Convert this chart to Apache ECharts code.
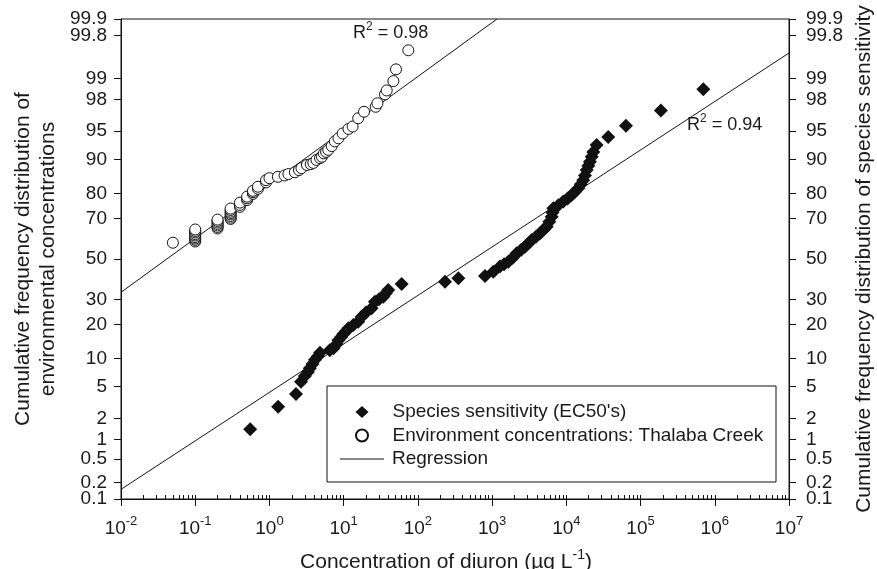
<!DOCTYPE html>
<html><head><meta charset="utf-8">
<script src="https://cdn.jsdelivr.net/npm/echarts@6/dist/echarts.min.js"></script>
<style>html,body{margin:0;padding:0;background:#fff}#c{width:877px;height:569px}</style>
</head><body><div id="c"></div>
<script>
// ---- data ----
const yTicksPct = [0.1, 0.2, 0.5, 1, 2, 5, 10, 20, 30, 50, 70, 80, 90, 95, 98, 99, 99.8, 99.9];
const yTicksPctCrowded = [0.2, 99.8];
const xTicks = [1e-2, 1e-1, 1, 1e1, 1e2, 1e3, 1e4, 1e5, 1e6, 1e7];
const envConc = [0.05,
  0.1,0.1,0.1,0.1,0.1,0.1,0.1,0.1,0.1,
  0.2,0.2,0.2,0.2,0.2,0.2,0.2,
  0.3,0.3,0.3,0.3,0.3,0.3,0.3,0.3,
  0.4,0.4,0.4, 0.5,0.5,0.5, 0.6,0.6,0.6, 0.7,0.7, 0.9,0.9,
  1.0,1.3,1.6,1.8,2.2,2.5,2.7,3.2,3.6,3.9,4.3,4.8,5.1,5.4,5.8,6.2,6.9,7.6,8.5,9.7,
  11.6,13.2,15.7,18.8,27,28.5,36,38,46.7,50.7,74.3];
const envPct = [58.3,
  58.9,59.7,60.4,61.1,61.9,62.6,63.4,64.1,64.8,
  65.3,66.0,66.7,67.4,68.1,68.8,69.4,
  69.7,70.3,71.0,71.7,72.3,72.9,73.6,74.2,
  74.9,75.7,76.6, 77.6,78.3,78.9, 79.9,80.5,81.0, 81.7,82.4, 83.8,84.5,
  85.1,85.5,85.9,86.3,86.8,87.4,87.9,88.7,88.9,89.2,89.9,90.3,90.6,91.3,91.6,92.0,92.7,93.5,94.0,94.7,
  95.3,95.6,96.5,97.1,97.5,97.75,98.3,98.5,98.9,99.27,99.64];
const spConc = [0.55,1.31,2.28,2.66,3.0,3.3,3.5,3.8,4.1,4.5,4.8,6.5,7.3,8.0,8.5,9.2,9.9,10.8,11.6,13.5,15.7,17.5,20,23.8,26.4,30,34.2,37,39.9,60.4,
  232,351,802,1038,1276,1450,1652,1900,2143,2450,2773,3100,3412,3900,4416,4900,5434,5900,6343,6500,6676,7800,9110,10400,11800,13100,14500,15700,16900,17800,18800,19800,20800,22000,23100,25600,36700,63600,188000,701000];
const spPct = [1.42,2.86,4.11,5.7,6.6,7.3,7.96,8.8,9.7,10.5,11.4,12.0,12.5,13.6,14.8,15.7,16.7,17.6,18.6,19.8,21.0,22.9,24.5,26.3,29.1,30.2,31.4,33.0,34.5,37.4,
  38.5,40.2,41.3,43.5,46.1,47.3,48.6,50.7,52.9,54.6,56.3,58.0,59.7,61.3,63.0,64.6,66.1,68.4,70.7,72.5,74.3,75.6,77.0,78.2,79.5,80.7,81.9,83.2,84.5,85.9,87.4,88.5,89.5,90.6,91.6,92.9,94.2,95.7,97.2,98.56];
const regEnvConc = [0.01, 1164];
const regEnvPct = [33.4, 99.9];
const regSpConc = [0.01, 1e7];
const regSpPct = [0.151, 99.6];
const minorX = [];
for (let e = -2; e < 7; e++) for (let m = 1; m <= 9; m++) minorX.push(m * Math.pow(10, e));
minorX.push(1e7);

// ---- probit (inverse normal CDF, Acklam) ----
function probit(p) {
  const a=[-3.969683028665376e+01,2.209460984245205e+02,-2.759285104469687e+02,1.383577518672690e+02,-3.066479806614716e+01,2.506628277459239e+00];
  const b=[-5.447609879822406e+01,1.615858368580409e+02,-1.556989798598866e+02,6.680131188771972e+01,-1.328068155288572e+01];
  const c=[-7.784894002430293e-03,-3.223964580411365e-01,-2.400758277161838e+00,-2.549732539343734e+00,4.374664141464968e+00,2.938163982698783e+00];
  const d=[7.784695709041462e-03,3.224671290700398e-01,2.445134137142996e+00,3.754408661907416e+00];
  const pl=0.02425;
  let q,r;
  if (p < pl) { q=Math.sqrt(-2*Math.log(p)); return (((((c[0]*q+c[1])*q+c[2])*q+c[3])*q+c[4])*q+c[5])/((((d[0]*q+d[1])*q+d[2])*q+d[3])*q+1); }
  if (p <= 1-pl) { q=p-0.5; r=q*q; return (((((a[0]*r+a[1])*r+a[2])*r+a[3])*r+a[4])*r+a[5])*q/(((((b[0]*r+b[1])*r+b[2])*r+b[3])*r+b[4])*r+1); }
  q=Math.sqrt(-2*Math.log(1-p)); return -(((((c[0]*q+c[1])*q+c[2])*q+c[3])*q+c[4])*q+c[5])/((((d[0]*q+d[1])*q+d[2])*q+d[3])*q+1);
}
const z = pct => probit(pct / 100);
const pairs = (xs, ys) => xs.map((x, i) => [x, z(ys[i])]);

const yTickZ = yTicksPct.map(z);
const yLabelMap = {};
yTicksPct.forEach((p, i) => { yLabelMap[yTickZ[i].toFixed(5)] = String(p); });
const mainLabelZ = yTicksPct.filter(p => yTicksPctCrowded.indexOf(p) < 0).map(z);
const crowdedLabelZ = yTicksPctCrowded.map(z);
const yMin = z(0.1), yMax = z(99.9);

const FONT = 'Liberation Sans, Arial, Helvetica, sans-serif';
const TXT = '#1a1a1a';
function supRich(base, sup, lift) {
  return {
    a: { fontSize: base, lineHeight: base + 2, color: TXT, fill: TXT, fontFamily: FONT },
    s: { fontSize: sup, lineHeight: sup, padding: [0, 0, lift, 0], color: TXT, fill: TXT, fontFamily: FONT }
  };
}
const yLabelStyle = (labels, margin) => ({
  show: true, customValues: labels, interval: 0, margin: margin, fontSize: 19, lineHeight: 13,
  color: TXT, fontFamily: FONT, showMinLabel: true, showMaxLabel: true, hideOverlap: false,
  formatter: v => yLabelMap[v.toFixed(5)] || ''
});

function yAxisDef(pos, nameText, gap, margin) {
  return {
    type: 'value', position: pos, min: yMin, max: yMax,
    name: nameText, nameLocation: 'middle', nameGap: gap, nameRotate: 90, nameMoveOverlap: false,
    nameTextStyle: { fontSize: 21, color: TXT, fontFamily: FONT, lineHeight: 25 },
    axisLine: { show: true, onZero: false, lineStyle: { color: '#111', width: 1 } },
    axisTick: { show: true, inside: false, length: 7, customValues: yTickZ, lineStyle: { color: '#111' } },
    axisLabel: yLabelStyle(mainLabelZ, margin),
    splitLine: { show: false }
  };
}
function yExtraDef(pos, margin) {
  return {
    type: 'value', position: pos, min: yMin, max: yMax, gridIndex: 0,
    axisLine: { show: false, onZero: false }, axisTick: { show: false }, splitLine: { show: false },
    axisLabel: yLabelStyle(crowdedLabelZ, margin)
  };
}

const chart = echarts.init(document.getElementById('c'), null, { renderer: 'canvas' });
chart.setOption({
  animation: false,
  backgroundColor: '#fff',
  textStyle: { fontFamily: FONT },
  grid: { left: 121, right: 88, top: 19, bottom: 70, show: true, borderColor: '#111', borderWidth: 1,
    backgroundColor: 'transparent', containLabel: false, outerBoundsMode: 'none' },
  xAxis: [{
    type: 'log', logBase: 10, min: 1e-2, max: 1e7, position: 'bottom',
    name: '{a|Concentration of diuron (µg L}{s|-1}{a|)}', nameLocation: 'middle', nameGap: 52, nameMoveOverlap: false,
    nameTextStyle: { fontSize: 21, color: TXT, fontFamily: FONT, padding: [0, 18, 0, 0], rich: supRich(21, 14, 15) },
    axisLine: { show: true, onZero: false, lineStyle: { color: '#111' } },
    axisTick: { show: true, length: 7, customValues: xTicks, lineStyle: { color: '#111' } },
    axisLabel: { customValues: xTicks, margin: 19, fontSize: 19, color: TXT, fontFamily: FONT,
      showMinLabel: true, showMaxLabel: true,
      formatter: v => '{a|10}{s|' + Math.round(Math.log10(v)) + '}',
      rich: supRich(19, 13, 14) },
    splitLine: { show: false }
  }, {
    type: 'log', logBase: 10, min: 1e-2, max: 1e7, position: 'bottom', gridIndex: 0,
    axisLine: { show: false, onZero: false }, axisLabel: { show: false }, splitLine: { show: false },
    axisTick: { show: true, inside: true, length: 4, customValues: minorX, lineStyle: { color: '#111' } }
  }],
  yAxis: [
    yAxisDef('left', 'Cumulative frequency distribution of\nenvironmental concentrations', 60, 14),
    yAxisDef('right', 'Cumulative frequency distribution of species sensitivity', 63, 17),
    yExtraDef('left', 14),
    yExtraDef('right', 17)
  ],
  legend: [{
    orient: 'vertical', left: 355, top: 401, padding: 0, itemGap: 1.5,
    itemWidth: 13, itemHeight: 12, symbolKeepAspect: true,
    textStyle: { fontSize: 19, color: TXT, fontFamily: FONT, lineHeight: 22, padding: [0, 0, 0, 19] },
    data: ["Species sensitivity (EC50's)", 'Environment concentrations: Thalaba Creek']
  }, {
    orient: 'vertical', left: 340, top: 448, padding: 0,
    itemWidth: 44, itemHeight: 1, icon: 'rect',
    textStyle: { fontSize: 19, color: TXT, fontFamily: FONT, lineHeight: 22, padding: [0, 0, 0, 3] },
    data: ['Regression']
  }],
  graphic: [
    { type: 'rect', z: 3, shape: { x: 327, y: 386, width: 449, height: 96 },
      style: { fill: '#fff', stroke: '#111', lineWidth: 1 } },
    { type: 'text', z: 10, left: 353, top: 21,
      style: { text: '{a|R}{s|2}{a| = 0.98}', fill: TXT, rich: supRich(18, 12, 13) } },
    { type: 'text', z: 10, left: 687, top: 113,
      style: { text: '{a|R}{s|2}{a| = 0.94}', fill: TXT, rich: supRich(18, 12, 13) } }
  ],
  series: [
    { name: 'Regression', type: 'line', xAxisIndex: 0, yAxisIndex: 0, data: pairs(regEnvConc, regEnvPct),
      symbol: 'none', lineStyle: { color: '#111', width: 1 }, itemStyle: { color: '#111' }, z: 1 },
    { name: 'Regression', type: 'line', xAxisIndex: 0, yAxisIndex: 0, data: pairs(regSpConc, regSpPct),
      symbol: 'none', lineStyle: { color: '#111', width: 1 }, itemStyle: { color: '#111' }, z: 1 },
    { name: "Species sensitivity (EC50's)", type: 'scatter', xAxisIndex: 0, yAxisIndex: 0, data: pairs(spConc, spPct),
      symbol: 'diamond', symbolSize: 14, itemStyle: { color: '#111', opacity: 1 }, z: 2 },
    { name: 'Environment concentrations: Thalaba Creek', type: 'scatter', xAxisIndex: 0, yAxisIndex: 0, data: pairs(envConc, envPct),
      symbol: 'circle', symbolSize: 11, itemStyle: { color: '#fff', borderColor: '#111', borderWidth: 1, opacity: 1 }, z: 2 }
  ]
});
</script></body></html>
